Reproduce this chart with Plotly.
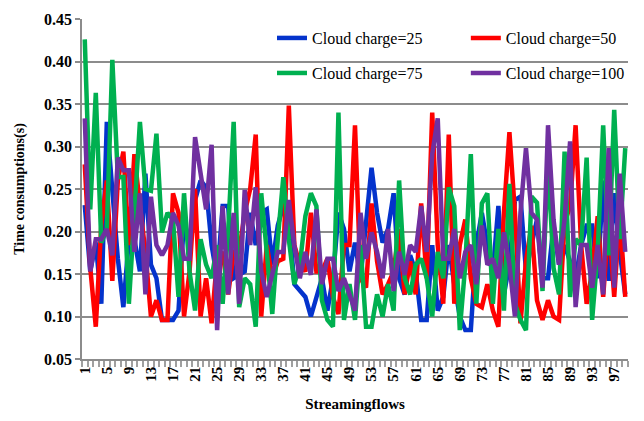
import plotly.graph_objects as go

flows = list(range(1, 100))
tick_labels = [str(v) for v in range(1, 100, 4)]

cc25 = [0.231, 0.153, 0.187, 0.115, 0.329, 0.240, 0.168, 0.111, 0.191, 0.191, 0.153, 0.268, 0.161, 0.145, 0.096, 0.096, 0.096,
        0.107, 0.214, 0.184, 0.237, 0.260, 0.252, 0.184, 0.145, 0.230, 0.230, 0.145, 0.149, 0.153, 0.222, 0.184, 0.222,
        0.226, 0.161, 0.207, 0.230, 0.214, 0.138, 0.130, 0.123, 0.100, 0.123, 0.145, 0.107, 0.145, 0.222, 0.203, 0.153, 0.187,
        0.145, 0.214, 0.275, 0.222, 0.187, 0.203, 0.245, 0.145, 0.126, 0.172, 0.153, 0.096, 0.096, 0.184, 0.107, 0.123,
        0.184, 0.138, 0.100, 0.084, 0.084, 0.184, 0.222, 0.184, 0.153, 0.230, 0.126, 0.161, 0.237, 0.241, 0.153, 0.184,
        0.214, 0.145, 0.145, 0.207, 0.161, 0.184, 0.165, 0.145, 0.184, 0.207, 0.207, 0.145, 0.260, 0.142, 0.245, 0.176, 0.126]

cc50 = [0.279, 0.157, 0.088, 0.207, 0.260, 0.142, 0.260, 0.294, 0.184, 0.291, 0.230, 0.176, 0.100, 0.119, 0.096, 0.096, 0.245,
        0.222, 0.100, 0.153, 0.250, 0.100, 0.145, 0.092, 0.168, 0.176, 0.126, 0.176, 0.176, 0.222, 0.250, 0.314, 0.100,
        0.184, 0.145, 0.165, 0.168, 0.348, 0.184, 0.161, 0.153, 0.222, 0.153, 0.153, 0.168, 0.123, 0.103, 0.184, 0.184, 0.325,
        0.145, 0.134, 0.233, 0.165, 0.126, 0.138, 0.153, 0.203, 0.126, 0.165, 0.126, 0.233, 0.145, 0.340, 0.184, 0.115,
        0.314, 0.115, 0.184, 0.214, 0.145, 0.115, 0.111, 0.138, 0.107, 0.088, 0.222, 0.317, 0.222, 0.092, 0.165, 0.207,
        0.119, 0.096, 0.119, 0.100, 0.096, 0.210, 0.230, 0.325, 0.184, 0.115, 0.153, 0.218, 0.123, 0.214, 0.123, 0.222, 0.123]

cc75 = [0.426, 0.226, 0.363, 0.187, 0.203, 0.402, 0.264, 0.264, 0.115, 0.214, 0.329, 0.250, 0.248, 0.315, 0.199, 0.222, 0.214,
        0.123, 0.245, 0.153, 0.107, 0.191, 0.161, 0.145, 0.184, 0.115, 0.200, 0.329, 0.111, 0.145, 0.138, 0.088, 0.245,
        0.176, 0.103, 0.191, 0.264, 0.191, 0.138, 0.161, 0.218, 0.245, 0.230, 0.119, 0.096, 0.088, 0.340, 0.096, 0.138, 0.096,
        0.184, 0.088, 0.088, 0.126, 0.100, 0.138, 0.107, 0.260, 0.145, 0.126, 0.161, 0.168, 0.145, 0.100, 0.176, 0.145,
        0.252, 0.230, 0.084, 0.161, 0.291, 0.115, 0.233, 0.245, 0.115, 0.203, 0.107, 0.256, 0.115, 0.096, 0.084, 0.241,
        0.234, 0.130, 0.283, 0.157, 0.126, 0.294, 0.123, 0.191, 0.184, 0.287, 0.096, 0.176, 0.325, 0.172, 0.343, 0.191, 0.298]

cc100 = [0.333, 0.153, 0.191, 0.191, 0.203, 0.172, 0.287, 0.272, 0.272, 0.176, 0.245, 0.126, 0.241, 0.184, 0.172, 0.184, 0.222,
         0.207, 0.168, 0.168, 0.311, 0.268, 0.226, 0.302, 0.084, 0.230, 0.126, 0.222, 0.115, 0.249, 0.184, 0.252, 0.153,
         0.123, 0.149, 0.176, 0.176, 0.237, 0.184, 0.145, 0.176, 0.149, 0.226, 0.138, 0.168, 0.168, 0.130, 0.145, 0.126, 0.107,
         0.222, 0.168, 0.199, 0.176, 0.145, 0.203, 0.130, 0.176, 0.149, 0.184, 0.176, 0.230, 0.176, 0.291, 0.333, 0.168,
         0.168, 0.203, 0.145, 0.176, 0.184, 0.138, 0.207, 0.161, 0.168, 0.145, 0.199, 0.161, 0.100, 0.222, 0.298, 0.222,
         0.214, 0.134, 0.325, 0.214, 0.161, 0.214, 0.306, 0.111, 0.184, 0.184, 0.134, 0.184, 0.126, 0.298, 0.134, 0.268, 0.176]

series = [
    ("Cloud charge=25", cc25, "#0433CC", "legend"),
    ("Cloud charge=50", cc50, "#FF0000", "legend2"),
    ("Cloud charge=75", cc75, "#00B050", "legend3"),
    ("Cloud charge=100", cc100, "#7030A0", "legend4"),
]

SERIF = "Liberation Serif, Times New Roman, serif"

fig = go.Figure()
for name, vals, color, lg in series:
    fig.add_trace(go.Scatter(x=flows, y=vals, name=name, mode="lines", showlegend=True,
                             line=dict(color=color, width=4.5), legend=lg))

legend_common = dict(orientation="v", xanchor="left", yanchor="top",
                     bgcolor="rgba(0,0,0,0)",
                     font=dict(family=SERIF, size=16, color="black"), itemclick=False)

fig.update_layout(
    width=644, height=421,
    showlegend=True,
    margin=dict(l=82, r=16, t=11, b=61),
    paper_bgcolor="white", plot_bgcolor="white",
    font=dict(family=SERIF, color="black"),
    legend=dict(x=0.348, y=0.994, **legend_common),
    legend2=dict(x=0.703, y=0.994, **legend_common),
    legend3=dict(x=0.348, y=0.891, **legend_common),
    legend4=dict(x=0.703, y=0.891, **legend_common),
    xaxis=dict(
        range=[0.5, 99.5], tickmode="array",
        tickvals=list(range(1, 100, 4)), ticktext=tick_labels,
        tickangle=-90, ticks="", showgrid=False,
        tickfont=dict(family=SERIF, size=15, color="black", weight="bold"),
        showline=True, linecolor="#8c8c8c", linewidth=1.5,
        minor=dict(tickmode="linear", tick0=0.5, dtick=1, ticks="outside",
                   ticklen=6, tickwidth=2, tickcolor="#a0a0a0", showgrid=False),
        title=dict(text="<b>Streamingflows</b>", font=dict(family=SERIF, size=15, color="black"), standoff=18),
        zeroline=False,
    ),
    yaxis=dict(
        range=[0.05, 0.45], dtick=0.05, tick0=0.05, tickformat=".2f",
        ticks="outside", ticklen=5, tickcolor="#8c8c8c", tickwidth=1.5,
        showgrid=True, gridcolor="#8c8c8c", gridwidth=1.5,
        showline=True, linecolor="#8c8c8c", linewidth=1.5,
        tickfont=dict(family=SERIF, size=16, color="black", weight="bold"),
        title=dict(text="<b>Time consumptions(s)</b>", font=dict(family=SERIF, size=14, color="black"), standoff=16),
        zeroline=False,
    ),
)

fig.write_html("out.html")
